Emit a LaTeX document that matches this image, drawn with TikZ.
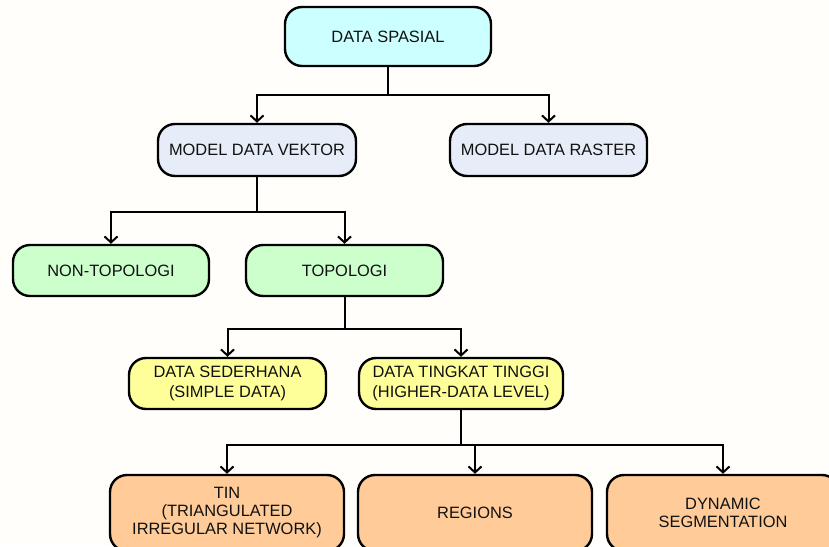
\documentclass[tikz,border=0pt]{standalone}
\usepackage{fontspec}
\setmainfont{Liberation Sans}
\usetikzlibrary{arrows.meta}
\definecolor{bgc}{HTML}{FFFEFA}
\definecolor{cyanc}{HTML}{CCFFFF}
\definecolor{bluec}{HTML}{E6ECF8}
\definecolor{greenc}{HTML}{CCFFCC}
\definecolor{yellowc}{HTML}{FFFF99}
\definecolor{orangec}{HTML}{FFCC99}
\definecolor{txt}{HTML}{111111}
\tikzset{
  box/.style={draw=black, line width=2.4pt, rounded corners=17pt, align=center,
    inner sep=0pt, text=txt, font=\fontsize{16.4pt}{19.5pt}\selectfont},
  wire/.style={draw=black, line width=2pt},
  arr/.style={wire, -{Straight Barb[length=6pt,width=13pt,line width=2pt]}},
}
\begin{document}
\begin{tikzpicture}[x=1pt,y=-1pt]
\useasboundingbox (0,0) rectangle (829,546);
\clip (0,0) rectangle (829,546);
\fill[bgc] (0,0) rectangle (829,546);

\node[box, fill=cyanc, minimum width=206pt, minimum height=59pt] (ds) at (388,36.5) {DATA SPASIAL};
\node[box, fill=bluec, minimum width=198pt, minimum height=52pt] (mdv) at (257,150) {MODEL DATA VEKTOR};
\node[box, fill=bluec, minimum width=197pt, minimum height=52pt] (mdr) at (548.5,150) {MODEL DATA RASTER};
\node[box, fill=greenc, minimum width=196pt, minimum height=51pt] (nt) at (111,270.5) {NON-TOPOLOGI};
\node[box, fill=greenc, minimum width=197pt, minimum height=51pt] (top) at (344.5,270.5) {TOPOLOGI};
\node[box, fill=yellowc, minimum width=197pt, minimum height=51pt] (dsd) at (227.5,383.5) {DATA SEDERHANA\\(SIMPLE DATA)};
\node[box, fill=yellowc, minimum width=204pt, minimum height=51pt] (dtt) at (461,383.5) {DATA TINGKAT TINGGI\\(HIGHER-DATA LEVEL)};
\node[box, fill=orangec, minimum width=234pt, minimum height=76pt, font=\fontsize{16.4pt}{18pt}\selectfont] (tin) at (227,513) {TIN\\(TRIANGULATED\\IRREGULAR NETWORK)};
\node[box, fill=orangec, minimum width=234pt, minimum height=76pt] (reg) at (475,513) {REGIONS};
\node[box, fill=orangec, minimum width=232pt, minimum height=76pt, font=\fontsize{16.4pt}{18pt}\selectfont] (dyn) at (723,513) {DYNAMIC\\SEGMENTATION};

\coordinate (b1) at (388,95);
\coordinate (b2) at (257,212);
\coordinate (b3) at (344.5,329);
\coordinate (b4) at (461,445);

\draw[wire] (ds.south) -- (b1);
\draw[arr] (b1) -| (mdv.north);
\draw[arr] (b1) -| (mdr.north);

\draw[wire] (mdv.south) -- (b2);
\draw[arr] (b2) -| (nt.north);
\draw[arr] (b2) -| (top.north);

\draw[wire] (top.south) -- (b3);
\draw[arr] (b3) -| (dsd.north);
\draw[arr] (b3) -| (dtt.north);

\draw[wire] (dtt.south) -- (b4);
\draw[arr] (b4) -| (tin.north);
\draw[arr] (b4) -| (reg.north);
\draw[arr] (b4) -| (dyn.north);
\end{tikzpicture}
\end{document}
